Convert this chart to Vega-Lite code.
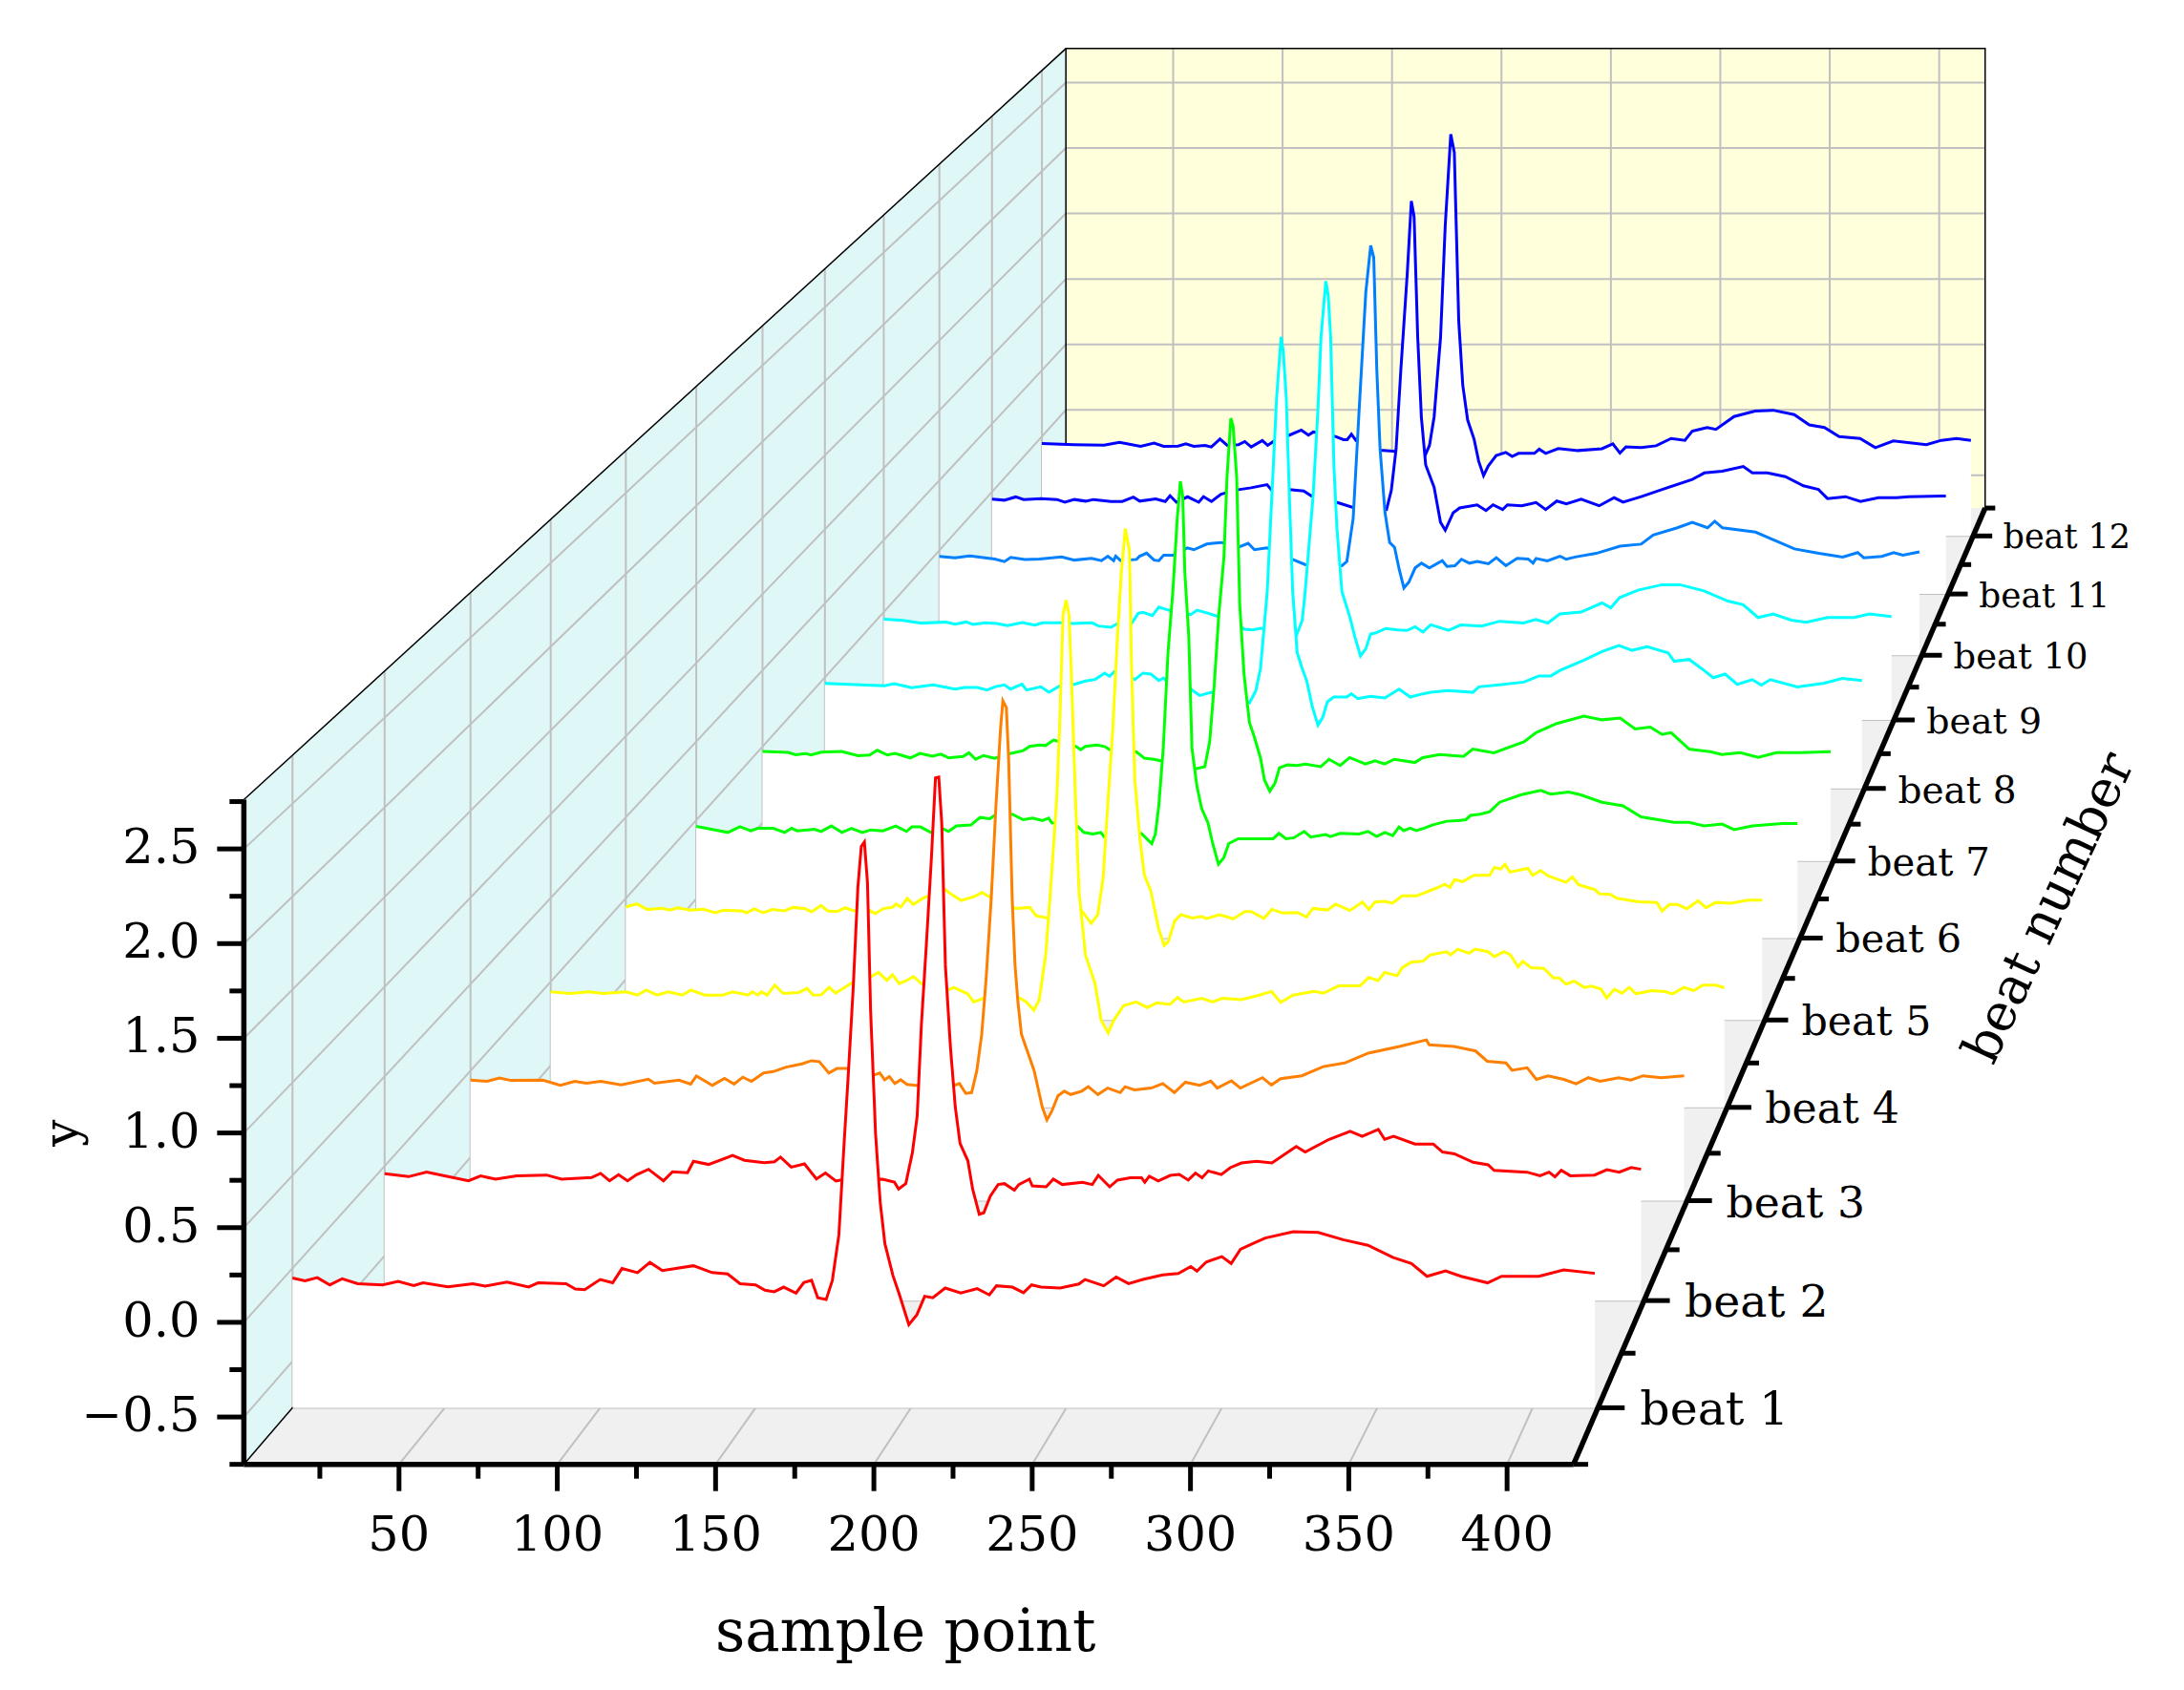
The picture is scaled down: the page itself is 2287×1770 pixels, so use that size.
{"$schema":"https://vega.github.io/schema/vega-lite/v6.json","width":2287,"height":1770,"padding":0,"autosize":"none","background":"white","config":{"view":{"stroke":null},"text":{"font":"DejaVu Serif"}},
"data":{"values":[
{"part":"side","beat":0.5,"x":1,"y":2.76,"y2":-0.75},{"part":"side","beat":12.5,"x":1,"y":2.76,"y2":-0.75},
{"part":"back","beat":12.5,"x":1,"y":2.76,"y2":-0.75},{"part":"back","beat":12.5,"x":421,"y":2.76,"y2":-0.75},
{"part":"floor","beat":0.5,"x":1,"x2":421,"y":-0.75},{"part":"floor","beat":12.5,"x":1,"x2":421,"y":-0.75},
{"part":"grid","id":"l1","beat":0.5,"x":1,"y":-0.5},{"part":"grid","id":"l1","beat":12.5,"x":1,"y":-0.5},{"part":"grid","id":"l1","beat":12.5,"x":421,"y":-0.5},
{"part":"grid","id":"l2","beat":0.5,"x":1,"y":0},{"part":"grid","id":"l2","beat":12.5,"x":1,"y":0},{"part":"grid","id":"l2","beat":12.5,"x":421,"y":0},
{"part":"grid","id":"l3","beat":0.5,"x":1,"y":0.5},{"part":"grid","id":"l3","beat":12.5,"x":1,"y":0.5},{"part":"grid","id":"l3","beat":12.5,"x":421,"y":0.5},
{"part":"grid","id":"l4","beat":0.5,"x":1,"y":1},{"part":"grid","id":"l4","beat":12.5,"x":1,"y":1},{"part":"grid","id":"l4","beat":12.5,"x":421,"y":1},
{"part":"grid","id":"l5","beat":0.5,"x":1,"y":1.5},{"part":"grid","id":"l5","beat":12.5,"x":1,"y":1.5},{"part":"grid","id":"l5","beat":12.5,"x":421,"y":1.5},
{"part":"grid","id":"l6","beat":0.5,"x":1,"y":2},{"part":"grid","id":"l6","beat":12.5,"x":1,"y":2},{"part":"grid","id":"l6","beat":12.5,"x":421,"y":2},
{"part":"grid","id":"l7","beat":0.5,"x":1,"y":2.5},{"part":"grid","id":"l7","beat":12.5,"x":1,"y":2.5},{"part":"grid","id":"l7","beat":12.5,"x":421,"y":2.5},
{"part":"grid","id":"v50","beat":0.5,"x":50,"y":-0.75},{"part":"grid","id":"v50","beat":12.5,"x":50,"y":-0.75},{"part":"grid","id":"v50","beat":12.5,"x":50,"y":2.76},
{"part":"grid","id":"v100","beat":0.5,"x":100,"y":-0.75},{"part":"grid","id":"v100","beat":12.5,"x":100,"y":-0.75},{"part":"grid","id":"v100","beat":12.5,"x":100,"y":2.76},
{"part":"grid","id":"v150","beat":0.5,"x":150,"y":-0.75},{"part":"grid","id":"v150","beat":12.5,"x":150,"y":-0.75},{"part":"grid","id":"v150","beat":12.5,"x":150,"y":2.76},
{"part":"grid","id":"v200","beat":0.5,"x":200,"y":-0.75},{"part":"grid","id":"v200","beat":12.5,"x":200,"y":-0.75},{"part":"grid","id":"v200","beat":12.5,"x":200,"y":2.76},
{"part":"grid","id":"v250","beat":0.5,"x":250,"y":-0.75},{"part":"grid","id":"v250","beat":12.5,"x":250,"y":-0.75},{"part":"grid","id":"v250","beat":12.5,"x":250,"y":2.76},
{"part":"grid","id":"v300","beat":0.5,"x":300,"y":-0.75},{"part":"grid","id":"v300","beat":12.5,"x":300,"y":-0.75},{"part":"grid","id":"v300","beat":12.5,"x":300,"y":2.76},
{"part":"grid","id":"v350","beat":0.5,"x":350,"y":-0.75},{"part":"grid","id":"v350","beat":12.5,"x":350,"y":-0.75},{"part":"grid","id":"v350","beat":12.5,"x":350,"y":2.76},
{"part":"grid","id":"v400","beat":0.5,"x":400,"y":-0.75},{"part":"grid","id":"v400","beat":12.5,"x":400,"y":-0.75},{"part":"grid","id":"v400","beat":12.5,"x":400,"y":2.76},
{"part":"grid","id":"b1","beat":1,"x":1,"y":2.76},{"part":"grid","id":"b1","beat":1,"x":1,"y":-0.75},{"part":"grid","id":"b1","beat":1,"x":421,"y":-0.75},
{"part":"grid","id":"b2","beat":2,"x":1,"y":2.76},{"part":"grid","id":"b2","beat":2,"x":1,"y":-0.75},{"part":"grid","id":"b2","beat":2,"x":421,"y":-0.75},
{"part":"grid","id":"b3","beat":3,"x":1,"y":2.76},{"part":"grid","id":"b3","beat":3,"x":1,"y":-0.75},{"part":"grid","id":"b3","beat":3,"x":421,"y":-0.75},
{"part":"grid","id":"b4","beat":4,"x":1,"y":2.76},{"part":"grid","id":"b4","beat":4,"x":1,"y":-0.75},{"part":"grid","id":"b4","beat":4,"x":421,"y":-0.75},
{"part":"grid","id":"b5","beat":5,"x":1,"y":2.76},{"part":"grid","id":"b5","beat":5,"x":1,"y":-0.75},{"part":"grid","id":"b5","beat":5,"x":421,"y":-0.75},
{"part":"grid","id":"b6","beat":6,"x":1,"y":2.76},{"part":"grid","id":"b6","beat":6,"x":1,"y":-0.75},{"part":"grid","id":"b6","beat":6,"x":421,"y":-0.75},
{"part":"grid","id":"b7","beat":7,"x":1,"y":2.76},{"part":"grid","id":"b7","beat":7,"x":1,"y":-0.75},{"part":"grid","id":"b7","beat":7,"x":421,"y":-0.75},
{"part":"grid","id":"b8","beat":8,"x":1,"y":2.76},{"part":"grid","id":"b8","beat":8,"x":1,"y":-0.75},{"part":"grid","id":"b8","beat":8,"x":421,"y":-0.75},
{"part":"grid","id":"b9","beat":9,"x":1,"y":2.76},{"part":"grid","id":"b9","beat":9,"x":1,"y":-0.75},{"part":"grid","id":"b9","beat":9,"x":421,"y":-0.75},
{"part":"grid","id":"b10","beat":10,"x":1,"y":2.76},{"part":"grid","id":"b10","beat":10,"x":1,"y":-0.75},{"part":"grid","id":"b10","beat":10,"x":421,"y":-0.75},
{"part":"grid","id":"b11","beat":11,"x":1,"y":2.76},{"part":"grid","id":"b11","beat":11,"x":1,"y":-0.75},{"part":"grid","id":"b11","beat":11,"x":421,"y":-0.75},
{"part":"grid","id":"b12","beat":12,"x":1,"y":2.76},{"part":"grid","id":"b12","beat":12,"x":1,"y":-0.75},{"part":"grid","id":"b12","beat":12,"x":421,"y":-0.75},
{"part":"frame","id":"t","beat":0.5,"x":1,"y":2.76},{"part":"frame","id":"t","beat":12.5,"x":1,"y":2.76},{"part":"frame","id":"t","beat":12.5,"x":421,"y":2.76},{"part":"frame","id":"t","beat":12.5,"x":421,"y":-0.75},
{"part":"frame","id":"c","beat":0.5,"x":1,"y":-0.75},{"part":"frame","id":"c","beat":12.5,"x":1,"y":-0.75},{"part":"frame","id":"c","beat":12.5,"x":1,"y":2.76},
{"part":"axis","id":"y","beat":0.5,"x":1,"y":-0.75},{"part":"axis","id":"y","beat":0.5,"x":1,"y":2.76},
{"part":"axis","id":"x","beat":0.5,"x":1,"y":-0.75},{"part":"axis","id":"x","beat":0.5,"x":421,"y":-0.75},
{"part":"axis","id":"z","beat":0.5,"x":421,"y":-0.75},{"part":"axis","id":"z","beat":12.5,"x":421,"y":-0.75},
{"part":"tick","axis":"y","major":1,"beat":0.5,"x":1,"y":-0.5,"label":"−0.5"},{"part":"tick","axis":"y","major":1,"beat":0.5,"x":1,"y":0,"label":"0.0"},{"part":"tick","axis":"y","major":1,"beat":0.5,"x":1,"y":0.5,"label":"0.5"},{"part":"tick","axis":"y","major":1,"beat":0.5,"x":1,"y":1,"label":"1.0"},{"part":"tick","axis":"y","major":1,"beat":0.5,"x":1,"y":1.5,"label":"1.5"},{"part":"tick","axis":"y","major":1,"beat":0.5,"x":1,"y":2,"label":"2.0"},{"part":"tick","axis":"y","major":1,"beat":0.5,"x":1,"y":2.5,"label":"2.5"},
{"part":"tick","axis":"y","major":0,"beat":0.5,"x":1,"y":-0.75},{"part":"tick","axis":"y","major":0,"beat":0.5,"x":1,"y":-0.25},{"part":"tick","axis":"y","major":0,"beat":0.5,"x":1,"y":0.25},{"part":"tick","axis":"y","major":0,"beat":0.5,"x":1,"y":0.75},{"part":"tick","axis":"y","major":0,"beat":0.5,"x":1,"y":1.25},{"part":"tick","axis":"y","major":0,"beat":0.5,"x":1,"y":1.75},{"part":"tick","axis":"y","major":0,"beat":0.5,"x":1,"y":2.25},{"part":"tick","axis":"y","major":0,"beat":0.5,"x":1,"y":2.75},
{"part":"tick","axis":"x","major":1,"beat":0.5,"x":50,"y":-0.75,"label":"50"},{"part":"tick","axis":"x","major":1,"beat":0.5,"x":100,"y":-0.75,"label":"100"},{"part":"tick","axis":"x","major":1,"beat":0.5,"x":150,"y":-0.75,"label":"150"},{"part":"tick","axis":"x","major":1,"beat":0.5,"x":200,"y":-0.75,"label":"200"},{"part":"tick","axis":"x","major":1,"beat":0.5,"x":250,"y":-0.75,"label":"250"},{"part":"tick","axis":"x","major":1,"beat":0.5,"x":300,"y":-0.75,"label":"300"},{"part":"tick","axis":"x","major":1,"beat":0.5,"x":350,"y":-0.75,"label":"350"},{"part":"tick","axis":"x","major":1,"beat":0.5,"x":400,"y":-0.75,"label":"400"},
{"part":"tick","axis":"x","major":0,"beat":0.5,"x":25,"y":-0.75},{"part":"tick","axis":"x","major":0,"beat":0.5,"x":75,"y":-0.75},{"part":"tick","axis":"x","major":0,"beat":0.5,"x":125,"y":-0.75},{"part":"tick","axis":"x","major":0,"beat":0.5,"x":175,"y":-0.75},{"part":"tick","axis":"x","major":0,"beat":0.5,"x":225,"y":-0.75},{"part":"tick","axis":"x","major":0,"beat":0.5,"x":275,"y":-0.75},{"part":"tick","axis":"x","major":0,"beat":0.5,"x":325,"y":-0.75},{"part":"tick","axis":"x","major":0,"beat":0.5,"x":375,"y":-0.75},
{"part":"tick","axis":"z","major":1,"beat":1,"x":421,"y":-0.75,"label":"beat 1"},{"part":"tick","axis":"z","major":1,"beat":2,"x":421,"y":-0.75,"label":"beat 2"},{"part":"tick","axis":"z","major":1,"beat":3,"x":421,"y":-0.75,"label":"beat 3"},{"part":"tick","axis":"z","major":1,"beat":4,"x":421,"y":-0.75,"label":"beat 4"},{"part":"tick","axis":"z","major":1,"beat":5,"x":421,"y":-0.75,"label":"beat 5"},{"part":"tick","axis":"z","major":1,"beat":6,"x":421,"y":-0.75,"label":"beat 6"},{"part":"tick","axis":"z","major":1,"beat":7,"x":421,"y":-0.75,"label":"beat 7"},{"part":"tick","axis":"z","major":1,"beat":8,"x":421,"y":-0.75,"label":"beat 8"},{"part":"tick","axis":"z","major":1,"beat":9,"x":421,"y":-0.75,"label":"beat 9"},{"part":"tick","axis":"z","major":1,"beat":10,"x":421,"y":-0.75,"label":"beat 10"},{"part":"tick","axis":"z","major":1,"beat":11,"x":421,"y":-0.75,"label":"beat 11"},{"part":"tick","axis":"z","major":1,"beat":12,"x":421,"y":-0.75,"label":"beat 12"},
{"part":"tick","axis":"z","major":0,"beat":0.5,"x":421,"y":-0.75},{"part":"tick","axis":"z","major":0,"beat":1.5,"x":421,"y":-0.75},{"part":"tick","axis":"z","major":0,"beat":2.5,"x":421,"y":-0.75},{"part":"tick","axis":"z","major":0,"beat":3.5,"x":421,"y":-0.75},{"part":"tick","axis":"z","major":0,"beat":4.5,"x":421,"y":-0.75},{"part":"tick","axis":"z","major":0,"beat":5.5,"x":421,"y":-0.75},{"part":"tick","axis":"z","major":0,"beat":6.5,"x":421,"y":-0.75},{"part":"tick","axis":"z","major":0,"beat":7.5,"x":421,"y":-0.75},{"part":"tick","axis":"z","major":0,"beat":8.5,"x":421,"y":-0.75},{"part":"tick","axis":"z","major":0,"beat":9.5,"x":421,"y":-0.75},{"part":"tick","axis":"z","major":0,"beat":10.5,"x":421,"y":-0.75},{"part":"tick","axis":"z","major":0,"beat":11.5,"x":421,"y":-0.75},{"part":"tick","axis":"z","major":0,"beat":12.5,"x":421,"y":-0.75},
{"part":"title","axis":"x","beat":0.5,"x":210,"y":-0.75,"label":"sample point"},{"part":"title","axis":"y","beat":0.5,"x":1,"y":1,"label":"y"},{"part":"title","axis":"z","beat":6,"x":421,"y":-0.75,"label":"beat number"},
{"beat":1,"x":1,"y":-0.052},{"beat":1,"x":5,"y":-0.067},{"beat":1,"x":9,"y":-0.05},{"beat":1,"x":13,"y":-0.089},{"beat":1,"x":17,"y":-0.056},{"beat":1,"x":22,"y":-0.083},{"beat":1,"x":30,"y":-0.089},{"beat":1,"x":35,"y":-0.07},{"beat":1,"x":40,"y":-0.093},{"beat":1,"x":43,"y":-0.078},{"beat":1,"x":51,"y":-0.1},{"beat":1,"x":59,"y":-0.083},{"beat":1,"x":63,"y":-0.096},{"beat":1,"x":70,"y":-0.074},{"beat":1,"x":77,"y":-0.1},{"beat":1,"x":80,"y":-0.078},{"beat":1,"x":89,"y":-0.083},{"beat":1,"x":92,"y":-0.111},{"beat":1,"x":95,"y":-0.115},{"beat":1,"x":100,"y":-0.06},{"beat":1,"x":104,"y":-0.078},{"beat":1,"x":107,"y":-0.001},{"beat":1,"x":112,"y":-0.023},{"beat":1,"x":116,"y":0.032},{"beat":1,"x":120,"y":-0.012},{"beat":1,"x":130,"y":0.014},{"beat":1,"x":136,"y":-0.023},{"beat":1,"x":141,"y":-0.03},{"beat":1,"x":145,"y":-0.083},{"beat":1,"x":150,"y":-0.089},{"beat":1,"x":153,"y":-0.118},{"beat":1,"x":156,"y":-0.126},{"beat":1,"x":159,"y":-0.101},{"beat":1,"x":163,"y":-0.133},{"beat":1,"x":165.5,"y":-0.077},{"beat":1,"x":168,"y":-0.064},{"beat":1,"x":170,"y":-0.158},{"beat":1,"x":172.7,"y":-0.168},{"beat":1,"x":174.7,"y":-0.064},{"beat":1,"x":176.8,"y":0.181},{"beat":1,"x":178.3,"y":0.624},{"beat":1,"x":179.9,"y":1.066},{"beat":1,"x":181.4,"y":1.508},{"beat":1,"x":182.9,"y":2.049},{"beat":1,"x":184,"y":2.27},{"beat":1,"x":185,"y":2.294},{"beat":1,"x":186,"y":2.073},{"beat":1,"x":187,"y":1.385},{"beat":1,"x":188.6,"y":0.722},{"beat":1,"x":190.1,"y":0.353},{"beat":1,"x":191.6,"y":0.132},{"beat":1,"x":194.2,"y":-0.04},{"beat":1,"x":196.2,"y":-0.138},{"beat":1,"x":199.3,"y":-0.303},{"beat":1,"x":201.9,"y":-0.249},{"beat":1,"x":204.4,"y":-0.15},{"beat":1,"x":207,"y":-0.158},{"beat":1,"x":211,"y":-0.106},{"beat":1,"x":216,"y":-0.133},{"beat":1,"x":221.3,"y":-0.109},{"beat":1,"x":225.2,"y":-0.143},{"beat":1,"x":227.5,"y":-0.094},{"beat":1,"x":232.6,"y":-0.101},{"beat":1,"x":236.2,"y":-0.131},{"beat":1,"x":238.8,"y":-0.089},{"beat":1,"x":241.8,"y":-0.101},{"beat":1,"x":248,"y":-0.106},{"beat":1,"x":254,"y":-0.084},{"beat":1,"x":256,"y":-0.06},{"beat":1,"x":262,"y":-0.094},{"beat":1,"x":266,"y":-0.047},{"beat":1,"x":270,"y":-0.082},{"beat":1,"x":274.6,"y":-0.06},{"beat":1,"x":281,"y":-0.035},{"beat":1,"x":286,"y":-0.028},{"beat":1,"x":290,"y":0.01},{"beat":1,"x":292,"y":-0.015},{"beat":1,"x":295,"y":0.034},{"beat":1,"x":300,"y":0.063},{"beat":1,"x":303,"y":0.026},{"beat":1,"x":306,"y":0.103},{"beat":1,"x":310,"y":0.134},{"beat":1,"x":314,"y":0.163},{"beat":1,"x":323,"y":0.197},{"beat":1,"x":331,"y":0.193},{"beat":1,"x":339,"y":0.154},{"beat":1,"x":347,"y":0.124},{"beat":1,"x":355,"y":0.059},{"beat":1,"x":361,"y":0.026},{"beat":1,"x":366,"y":-0.043},{"beat":1,"x":372,"y":-0.014},{"beat":1,"x":377,"y":-0.043},{"beat":1,"x":385.5,"y":-0.078},{"beat":1,"x":390,"y":-0.043},{"beat":1,"x":402,"y":-0.043},{"beat":1,"x":410,"y":-0.008},{"beat":1,"x":420,"y":-0.027},
{"beat":2,"x":1,"y":-0.043},{"beat":2,"x":9,"y":-0.059},{"beat":2,"x":15,"y":-0.034},{"beat":2,"x":21,"y":-0.055},{"beat":2,"x":29,"y":-0.082},{"beat":2,"x":33,"y":-0.055},{"beat":2,"x":38,"y":-0.073},{"beat":2,"x":45,"y":-0.055},{"beat":2,"x":55,"y":-0.05},{"beat":2,"x":60,"y":-0.073},{"beat":2,"x":70,"y":-0.064},{"beat":2,"x":73,"y":-0.041},{"beat":2,"x":76,"y":-0.082},{"beat":2,"x":79,"y":-0.048},{"beat":2,"x":82,"y":-0.082},{"beat":2,"x":85,"y":-0.048},{"beat":2,"x":89,"y":-0.018},{"beat":2,"x":94,"y":-0.082},{"beat":2,"x":97,"y":-0.032},{"beat":2,"x":102,"y":-0.037},{"beat":2,"x":104,"y":0.027},{"beat":2,"x":109,"y":0.009},{"beat":2,"x":117,"y":0.059},{"beat":2,"x":121,"y":0.032},{"beat":2,"x":127.6,"y":0.019},{"beat":2,"x":131,"y":0.024},{"beat":2,"x":133,"y":0.05},{"beat":2,"x":136.6,"y":-0.006},{"beat":2,"x":141,"y":0.012},{"beat":2,"x":145,"y":-0.072},{"beat":2,"x":148,"y":-0.039},{"beat":2,"x":151.5,"y":-0.083},{"beat":2,"x":153,"y":-0.078},{"beat":2,"x":167,"y":-0.073},{"beat":2,"x":171,"y":-0.09},{"beat":2,"x":172.4,"y":-0.128},{"beat":2,"x":174.8,"y":-0.098},{"beat":2,"x":177,"y":0.075},{"beat":2,"x":178.6,"y":0.279},{"beat":2,"x":180,"y":0.788},{"beat":2,"x":181.7,"y":1.247},{"beat":2,"x":183.3,"y":1.705},{"beat":2,"x":184.7,"y":2.164},{"beat":2,"x":185.8,"y":2.169},{"beat":2,"x":186.8,"y":1.909},{"beat":2,"x":188,"y":1.12},{"beat":2,"x":189.7,"y":0.661},{"beat":2,"x":191.3,"y":0.33},{"beat":2,"x":192.9,"y":0.126},{"beat":2,"x":195.5,"y":0.029},{"beat":2,"x":197.1,"y":-0.129},{"beat":2,"x":199.3,"y":-0.269},{"beat":2,"x":200.8,"y":-0.261},{"beat":2,"x":203,"y":-0.167},{"beat":2,"x":205.6,"y":-0.103},{"beat":2,"x":207.7,"y":-0.098},{"beat":2,"x":211,"y":-0.134},{"beat":2,"x":212.5,"y":-0.103},{"beat":2,"x":216,"y":-0.073},{"beat":2,"x":217,"y":-0.111},{"beat":2,"x":221.6,"y":-0.116},{"beat":2,"x":224,"y":-0.073},{"beat":2,"x":227,"y":-0.103},{"beat":2,"x":233.7,"y":-0.09},{"beat":2,"x":237,"y":-0.103},{"beat":2,"x":239,"y":-0.052},{"beat":2,"x":242.8,"y":-0.116},{"beat":2,"x":245.4,"y":-0.078},{"beat":2,"x":249.7,"y":-0.065},{"beat":2,"x":253.4,"y":-0.065},{"beat":2,"x":254.5,"y":-0.09},{"beat":2,"x":256,"y":-0.057},{"beat":2,"x":259,"y":-0.083},{"beat":2,"x":263,"y":-0.052},{"beat":2,"x":266,"y":-0.047},{"beat":2,"x":269,"y":-0.078},{"beat":2,"x":271.4,"y":-0.039},{"beat":2,"x":273.6,"y":-0.065},{"beat":2,"x":275.7,"y":-0.027},{"beat":2,"x":280,"y":-0.047},{"beat":2,"x":283,"y":-0.009},{"beat":2,"x":286.7,"y":0.017},{"beat":2,"x":291.8,"y":0.027},{"beat":2,"x":296.9,"y":0.017},{"beat":2,"x":305,"y":0.109},{"beat":2,"x":308,"y":0.078},{"beat":2,"x":316,"y":0.149},{"beat":2,"x":323,"y":0.194},{"beat":2,"x":327,"y":0.166},{"beat":2,"x":332.4,"y":0.204},{"beat":2,"x":334.5,"y":0.149},{"beat":2,"x":337.5,"y":0.166},{"beat":2,"x":344.6,"y":0.123},{"beat":2,"x":350.7,"y":0.123},{"beat":2,"x":353.8,"y":0.078},{"beat":2,"x":357.8,"y":0.068},{"beat":2,"x":364,"y":0.021},{"beat":2,"x":369,"y":0.007},{"beat":2,"x":371,"y":-0.024},{"beat":2,"x":382,"y":-0.034},{"beat":2,"x":386.3,"y":-0.054},{"beat":2,"x":389.3,"y":-0.034},{"beat":2,"x":391.3,"y":-0.06},{"beat":2,"x":393.4,"y":-0.024},{"beat":2,"x":396.4,"y":-0.054},{"beat":2,"x":404.5,"y":-0.05},{"beat":2,"x":408.6,"y":-0.02},{"beat":2,"x":412.7,"y":-0.034},{"beat":2,"x":416.7,"y":-0.008},{"beat":2,"x":420,"y":-0.018},
{"beat":3,"x":1,"y":-0.054},{"beat":3,"x":6.7,"y":-0.061},{"beat":3,"x":11,"y":-0.042},{"beat":3,"x":15,"y":-0.056},{"beat":3,"x":26,"y":-0.054},{"beat":3,"x":32,"y":-0.084},{"beat":3,"x":37,"y":-0.061},{"beat":3,"x":41,"y":-0.072},{"beat":3,"x":46,"y":-0.061},{"beat":3,"x":53,"y":-0.082},{"beat":3,"x":62.4,"y":-0.049},{"beat":3,"x":64.5,"y":-0.072},{"beat":3,"x":73,"y":-0.054},{"beat":3,"x":77,"y":-0.077},{"beat":3,"x":79,"y":-0.03},{"beat":3,"x":84.5,"y":-0.084},{"beat":3,"x":88.7,"y":-0.044},{"beat":3,"x":92,"y":-0.077},{"beat":3,"x":95,"y":-0.037},{"beat":3,"x":98,"y":-0.061},{"beat":3,"x":102.2,"y":-0.013},{"beat":3,"x":105.5,"y":-0.005},{"beat":3,"x":110,"y":0.021},{"beat":3,"x":115.4,"y":0.04},{"beat":3,"x":118.7,"y":0.058},{"beat":3,"x":121.4,"y":0.053},{"beat":3,"x":124.7,"y":-0.013},{"beat":3,"x":127.5,"y":0.013},{"beat":3,"x":131,"y":0.013},{"beat":3,"x":140,"y":-0.026},{"beat":3,"x":142.3,"y":-0.013},{"beat":3,"x":144,"y":-0.052},{"beat":3,"x":145.6,"y":-0.034},{"beat":3,"x":147.5,"y":-0.074},{"beat":3,"x":149.5,"y":-0.052},{"beat":3,"x":151.7,"y":-0.079},{"beat":3,"x":154.7,"y":-0.084},{"beat":3,"x":168,"y":-0.084},{"beat":3,"x":169.8,"y":-0.074},{"beat":3,"x":172,"y":-0.131},{"beat":3,"x":174,"y":-0.126},{"beat":3,"x":175.8,"y":0},{"beat":3,"x":177.5,"y":0.211},{"beat":3,"x":179,"y":0.528},{"beat":3,"x":180.8,"y":1},{"beat":3,"x":182.4,"y":1.53},{"beat":3,"x":184,"y":1.977},{"beat":3,"x":184.8,"y":2.135},{"beat":3,"x":186,"y":2.096},{"beat":3,"x":186.8,"y":1.793},{"beat":3,"x":188,"y":1},{"beat":3,"x":189,"y":0.607},{"beat":3,"x":190,"y":0.396},{"beat":3,"x":191.2,"y":0.211},{"beat":3,"x":193.4,"y":0.106},{"beat":3,"x":195.6,"y":0},{"beat":3,"x":198.4,"y":-0.21},{"beat":3,"x":200,"y":-0.284},{"beat":3,"x":201.6,"y":-0.237},{"beat":3,"x":203.8,"y":-0.145},{"beat":3,"x":206,"y":-0.118},{"beat":3,"x":208.2,"y":-0.137},{"beat":3,"x":212,"y":-0.118},{"beat":3,"x":214.3,"y":-0.092},{"beat":3,"x":217.6,"y":-0.137},{"beat":3,"x":221,"y":-0.1},{"beat":3,"x":225.3,"y":-0.126},{"beat":3,"x":227,"y":-0.092},{"beat":3,"x":230.2,"y":-0.11},{"beat":3,"x":236,"y":-0.1},{"beat":3,"x":240,"y":-0.074},{"beat":3,"x":244,"y":-0.126},{"beat":3,"x":247.8,"y":-0.066},{"beat":3,"x":252.7,"y":-0.084},{"beat":3,"x":256.6,"y":-0.06},{"beat":3,"x":258.8,"y":-0.1},{"beat":3,"x":263.7,"y":-0.058},{"beat":3,"x":266.8,"y":-0.1},{"beat":3,"x":274.4,"y":-0.04},{"beat":3,"x":277.5,"y":-0.082},{"beat":3,"x":280.7,"y":-0.046},{"beat":3,"x":288,"y":-0.029},{"beat":3,"x":295.4,"y":0.024},{"beat":3,"x":302.8,"y":0.045},{"beat":3,"x":311,"y":0.102},{"beat":3,"x":321.7,"y":0.14},{"beat":3,"x":331,"y":0.178},{"beat":3,"x":332,"y":0.15},{"beat":3,"x":340.6,"y":0.14},{"beat":3,"x":348,"y":0.114},{"beat":3,"x":352,"y":0.055},{"beat":3,"x":358.5,"y":0.045},{"beat":3,"x":360.6,"y":0.003},{"beat":3,"x":365.8,"y":0.017},{"beat":3,"x":369,"y":-0.05},{"beat":3,"x":373,"y":-0.029},{"beat":3,"x":378.5,"y":-0.05},{"beat":3,"x":382.7,"y":-0.075},{"beat":3,"x":386.9,"y":-0.04},{"beat":3,"x":391,"y":-0.061},{"beat":3,"x":397.4,"y":-0.04},{"beat":3,"x":401.6,"y":-0.054},{"beat":3,"x":405.8,"y":-0.029},{"beat":3,"x":412,"y":-0.04},{"beat":3,"x":420,"y":-0.029},
{"beat":4,"x":1,"y":-0.06},{"beat":4,"x":8,"y":-0.07},{"beat":4,"x":14.6,"y":-0.06},{"beat":4,"x":20,"y":-0.07},{"beat":4,"x":28,"y":-0.06},{"beat":4,"x":32,"y":-0.08},{"beat":4,"x":35,"y":-0.05},{"beat":4,"x":39,"y":-0.08},{"beat":4,"x":43,"y":-0.06},{"beat":4,"x":48,"y":-0.08},{"beat":4,"x":51,"y":-0.05},{"beat":4,"x":56,"y":-0.08},{"beat":4,"x":62.4,"y":-0.08},{"beat":4,"x":66,"y":-0.06},{"beat":4,"x":71.5,"y":-0.08},{"beat":4,"x":73,"y":-0.06},{"beat":4,"x":75,"y":-0.08},{"beat":4,"x":76.2,"y":-0.06},{"beat":4,"x":78.3,"y":-0.08},{"beat":4,"x":81,"y":-0.02},{"beat":4,"x":84,"y":-0.07},{"beat":4,"x":89.6,"y":-0.064},{"beat":4,"x":92.5,"y":-0.04},{"beat":4,"x":94.7,"y":-0.08},{"beat":4,"x":97.6,"y":-0.078},{"beat":4,"x":100.4,"y":-0.034},{"beat":4,"x":102.7,"y":-0.068},{"beat":4,"x":109,"y":-0.002},{"beat":4,"x":115,"y":0.027},{"beat":4,"x":118,"y":0.056},{"beat":4,"x":121,"y":0.008},{"beat":4,"x":123,"y":0.042},{"beat":4,"x":125.4,"y":-0.011},{"beat":4,"x":127.7,"y":0.004},{"beat":4,"x":130.5,"y":0.031},{"beat":4,"x":133.3,"y":-0.011},{"beat":4,"x":143,"y":-0.049},{"beat":4,"x":144.9,"y":-0.034},{"beat":4,"x":149.8,"y":-0.072},{"beat":4,"x":152,"y":-0.121},{"beat":4,"x":155.5,"y":-0.099},{"beat":4,"x":168.6,"y":-0.099},{"beat":4,"x":170.8,"y":-0.121},{"beat":4,"x":173.5,"y":-0.17},{"beat":4,"x":175.4,"y":-0.107},{"beat":4,"x":177.7,"y":0.159},{"beat":4,"x":179.4,"y":0.539},{"beat":4,"x":181.7,"y":1.109},{"beat":4,"x":182.8,"y":1.584},{"beat":4,"x":183.9,"y":2.192},{"beat":4,"x":185,"y":2.277},{"beat":4,"x":186,"y":2.192},{"beat":4,"x":186.8,"y":1.869},{"beat":4,"x":188.3,"y":1.109},{"beat":4,"x":189.6,"y":0.539},{"beat":4,"x":191.9,"y":0.159},{"beat":4,"x":195.3,"y":-0.01},{"beat":4,"x":197.5,"y":-0.23},{"beat":4,"x":200,"y":-0.306},{"beat":4,"x":202,"y":-0.23},{"beat":4,"x":205.5,"y":-0.143},{"beat":4,"x":210,"y":-0.121},{"beat":4,"x":214,"y":-0.154},{"beat":4,"x":217.4,"y":-0.126},{"beat":4,"x":222,"y":-0.135},{"beat":4,"x":224.8,"y":-0.094},{"beat":4,"x":227,"y":-0.121},{"beat":4,"x":233.4,"y":-0.099},{"beat":4,"x":237.3,"y":-0.121},{"beat":4,"x":240.7,"y":-0.099},{"beat":4,"x":247.5,"y":-0.107},{"beat":4,"x":254,"y":-0.08},{"beat":4,"x":258.3,"y":-0.058},{"beat":4,"x":261.6,"y":-0.123},{"beat":4,"x":266,"y":-0.08},{"beat":4,"x":273.6,"y":-0.058},{"beat":4,"x":276.8,"y":-0.069},{"beat":4,"x":282.3,"y":-0.025},{"beat":4,"x":289.9,"y":-0.025},{"beat":4,"x":293,"y":0.025},{"beat":4,"x":296.4,"y":0.007},{"beat":4,"x":298.7,"y":0.055},{"beat":4,"x":303.2,"y":0.036},{"beat":4,"x":305,"y":0.084},{"beat":4,"x":308.4,"y":0.118},{"beat":4,"x":312.3,"y":0.122},{"beat":4,"x":315,"y":0.16},{"beat":4,"x":320.9,"y":0.179},{"beat":4,"x":322.3,"y":0.16},{"beat":4,"x":324.8,"y":0.194},{"beat":4,"x":328.8,"y":0.17},{"beat":4,"x":331,"y":0.194},{"beat":4,"x":335.6,"y":0.179},{"beat":4,"x":337.9,"y":0.15},{"beat":4,"x":341.3,"y":0.179},{"beat":4,"x":343.6,"y":0.16},{"beat":4,"x":346.4,"y":0.088},{"beat":4,"x":348,"y":0.122},{"beat":4,"x":351,"y":0.084},{"beat":4,"x":355.5,"y":0.08},{"beat":4,"x":359,"y":0.023},{"beat":4,"x":361,"y":0.023},{"beat":4,"x":363.5,"y":-0.015},{"beat":4,"x":366.3,"y":0.004},{"beat":4,"x":370,"y":-0.034},{"beat":4,"x":372.6,"y":-0.026},{"beat":4,"x":376,"y":-0.045},{"beat":4,"x":378,"y":-0.097},{"beat":4,"x":380.7,"y":-0.045},{"beat":4,"x":383.4,"y":-0.068},{"beat":4,"x":386,"y":-0.034},{"beat":4,"x":388.5,"y":-0.072},{"beat":4,"x":394,"y":-0.053},{"beat":4,"x":398.7,"y":-0.059},{"beat":4,"x":401.5,"y":-0.072},{"beat":4,"x":405.5,"y":-0.034},{"beat":4,"x":409,"y":-0.053},{"beat":4,"x":412.3,"y":-0.021},{"beat":4,"x":416.9,"y":-0.021},{"beat":4,"x":420,"y":-0.036},
{"beat":5,"x":1,"y":-0.054},{"beat":5,"x":5,"y":-0.034},{"beat":5,"x":9,"y":-0.069},{"beat":5,"x":14.4,"y":-0.061},{"beat":5,"x":17.3,"y":-0.073},{"beat":5,"x":20,"y":-0.058},{"beat":5,"x":25,"y":-0.073},{"beat":5,"x":29.6,"y":-0.067},{"beat":5,"x":34,"y":-0.089},{"beat":5,"x":37,"y":-0.073},{"beat":5,"x":43.7,"y":-0.077},{"beat":5,"x":45.5,"y":-0.089},{"beat":5,"x":48.4,"y":-0.065},{"beat":5,"x":51.7,"y":-0.089},{"beat":5,"x":55,"y":-0.069},{"beat":5,"x":59.6,"y":-0.077},{"beat":5,"x":62.5,"y":-0.056},{"beat":5,"x":67,"y":-0.063},{"beat":5,"x":69.5,"y":-0.083},{"beat":5,"x":73,"y":-0.044},{"beat":5,"x":75.4,"y":-0.077},{"beat":5,"x":79,"y":-0.081},{"beat":5,"x":81.9,"y":-0.058},{"beat":5,"x":85,"y":-0.077},{"beat":5,"x":90,"y":-0.069},{"beat":5,"x":93,"y":-0.093},{"beat":5,"x":96,"y":-0.063},{"beat":5,"x":99.5,"y":-0.054},{"beat":5,"x":100.6,"y":-0.034},{"beat":5,"x":102.4,"y":-0.054},{"beat":5,"x":104.8,"y":0},{"beat":5,"x":107,"y":-0.038},{"beat":5,"x":110.6,"y":0.001},{"beat":5,"x":118.8,"y":0.054},{"beat":5,"x":121,"y":0.025},{"beat":5,"x":124.7,"y":-0.013},{"beat":5,"x":129.4,"y":0.011},{"beat":5,"x":132.4,"y":0.036},{"beat":5,"x":135.3,"y":0.007},{"beat":5,"x":144.7,"y":-0.062},{"beat":5,"x":150,"y":-0.056},{"beat":5,"x":152.3,"y":-0.107},{"beat":5,"x":156.4,"y":-0.121},{"beat":5,"x":169.3,"y":-0.081},{"beat":5,"x":172.6,"y":-0.154},{"beat":5,"x":175,"y":-0.101},{"beat":5,"x":177,"y":0.124},{"beat":5,"x":178.7,"y":0.575},{"beat":5,"x":180.5,"y":1.026},{"beat":5,"x":182.3,"y":1.614},{"beat":5,"x":183.7,"y":2.006},{"beat":5,"x":185.2,"y":2.28},{"beat":5,"x":186.7,"y":2.143},{"beat":5,"x":187.5,"y":1.418},{"beat":5,"x":188.7,"y":0.732},{"beat":5,"x":190.5,"y":0.379},{"beat":5,"x":192.2,"y":0.144},{"beat":5,"x":194.6,"y":0.046},{"beat":5,"x":197.5,"y":-0.189},{"beat":5,"x":199.5,"y":-0.291},{"beat":5,"x":201,"y":-0.268},{"beat":5,"x":203.4,"y":-0.14},{"beat":5,"x":205.7,"y":-0.101},{"beat":5,"x":209.8,"y":-0.121},{"beat":5,"x":213.4,"y":-0.111},{"beat":5,"x":215.1,"y":-0.125},{"beat":5,"x":219.8,"y":-0.101},{"beat":5,"x":222.2,"y":-0.111},{"beat":5,"x":225,"y":-0.127},{"beat":5,"x":229.2,"y":-0.081},{"beat":5,"x":231.6,"y":-0.081},{"beat":5,"x":236.3,"y":-0.123},{"beat":5,"x":239.2,"y":-0.068},{"beat":5,"x":243.3,"y":-0.091},{"beat":5,"x":248.6,"y":-0.087},{"beat":5,"x":252,"y":-0.115},{"beat":5,"x":254.4,"y":-0.062},{"beat":5,"x":259.7,"y":-0.072},{"beat":5,"x":262.7,"y":-0.036},{"beat":5,"x":268,"y":-0.075},{"beat":5,"x":272.6,"y":-0.023},{"beat":5,"x":275,"y":-0.068},{"beat":5,"x":277.3,"y":-0.023},{"beat":5,"x":280.8,"y":-0.019},{"beat":5,"x":283.7,"y":-0.03},{"beat":5,"x":287.3,"y":0.015},{"beat":5,"x":292.5,"y":0.015},{"beat":5,"x":295.5,"y":0.034},{"beat":5,"x":300,"y":0.064},{"beat":5,"x":303,"y":0.087},{"beat":5,"x":304.9,"y":0.068},{"beat":5,"x":306.6,"y":0.116},{"beat":5,"x":309.6,"y":0.103},{"beat":5,"x":313.7,"y":0.142},{"beat":5,"x":319.5,"y":0.142},{"beat":5,"x":321.3,"y":0.191},{"beat":5,"x":323.6,"y":0.181},{"beat":5,"x":325.2,"y":0.21},{"beat":5,"x":327,"y":0.162},{"beat":5,"x":333.6,"y":0.185},{"beat":5,"x":335.4,"y":0.142},{"beat":5,"x":338.3,"y":0.171},{"beat":5,"x":341.2,"y":0.138},{"beat":5,"x":347.7,"y":0.099},{"beat":5,"x":350,"y":0.132},{"beat":5,"x":352.4,"y":0.083},{"beat":5,"x":358.3,"y":0.054},{"beat":5,"x":360,"y":0.028},{"beat":5,"x":364,"y":0.024},{"beat":5,"x":366.5,"y":0.001},{"beat":5,"x":370.6,"y":-0.011},{"beat":5,"x":374.7,"y":-0.021},{"beat":5,"x":381.2,"y":-0.025},{"beat":5,"x":383.1,"y":-0.078},{"beat":5,"x":385.8,"y":-0.038},{"beat":5,"x":388.8,"y":-0.038},{"beat":5,"x":392.3,"y":-0.064},{"beat":5,"x":396.4,"y":-0.015},{"beat":5,"x":399.3,"y":-0.058},{"beat":5,"x":402.9,"y":-0.025},{"beat":5,"x":408.7,"y":-0.03},{"beat":5,"x":414.6,"y":-0.011},{"beat":5,"x":420,"y":-0.011},
{"beat":6,"x":1,"y":-0.04},{"beat":6,"x":6.7,"y":-0.058},{"beat":6,"x":13,"y":-0.078},{"beat":6,"x":17.6,"y":-0.042},{"beat":6,"x":21.8,"y":-0.068},{"beat":6,"x":24.3,"y":-0.052},{"beat":6,"x":30.3,"y":-0.052},{"beat":6,"x":34.6,"y":-0.078},{"beat":6,"x":37.3,"y":-0.052},{"beat":6,"x":39.4,"y":-0.068},{"beat":6,"x":46,"y":-0.058},{"beat":6,"x":48.5,"y":-0.072},{"beat":6,"x":52.4,"y":-0.037},{"beat":6,"x":56.4,"y":-0.078},{"beat":6,"x":60,"y":-0.052},{"beat":6,"x":64.2,"y":-0.078},{"beat":6,"x":67.3,"y":-0.062},{"beat":6,"x":72,"y":-0.068},{"beat":6,"x":76.9,"y":-0.037},{"beat":6,"x":81,"y":-0.072},{"beat":6,"x":83,"y":-0.043},{"beat":6,"x":86.3,"y":-0.043},{"beat":6,"x":90.3,"y":-0.078},{"beat":6,"x":94.5,"y":-0.052},{"beat":6,"x":97,"y":-0.072},{"beat":6,"x":100,"y":-0.037},{"beat":6,"x":105.5,"y":-0.031},{"beat":6,"x":109,"y":0.017},{"beat":6,"x":112.7,"y":0.009},{"beat":6,"x":114.5,"y":0.03},{"beat":6,"x":121.2,"y":0.038},{"beat":6,"x":125.4,"y":0.003},{"beat":6,"x":129,"y":0.013},{"beat":6,"x":132.7,"y":-0.003},{"beat":6,"x":135.1,"y":0.013},{"beat":6,"x":136.3,"y":-0.017},{"beat":6,"x":146,"y":-0.037},{"beat":6,"x":148.5,"y":-0.078},{"beat":6,"x":152,"y":-0.088},{"beat":6,"x":154.9,"y":-0.078},{"beat":6,"x":156.3,"y":-0.108},{"beat":6,"x":170.3,"y":-0.084},{"beat":6,"x":174.3,"y":-0.149},{"beat":6,"x":175.7,"y":-0.088},{"beat":6,"x":177,"y":0.094},{"beat":6,"x":178.7,"y":0.459},{"beat":6,"x":180.5,"y":1.066},{"beat":6,"x":182.4,"y":1.471},{"beat":6,"x":184,"y":1.917},{"beat":6,"x":185.2,"y":2.156},{"beat":6,"x":186.1,"y":2.059},{"beat":6,"x":186.9,"y":1.573},{"beat":6,"x":188.4,"y":1.168},{"beat":6,"x":189.6,"y":0.459},{"beat":6,"x":191.5,"y":0.216},{"beat":6,"x":193.3,"y":0.074},{"beat":6,"x":195.7,"y":-0.017},{"beat":6,"x":197.5,"y":-0.149},{"beat":6,"x":199.7,"y":-0.28},{"beat":6,"x":201.7,"y":-0.24},{"beat":6,"x":203.6,"y":-0.149},{"beat":6,"x":207.2,"y":-0.118},{"beat":6,"x":212,"y":-0.118},{"beat":6,"x":216.3,"y":-0.118},{"beat":6,"x":220.5,"y":-0.118},{"beat":6,"x":222.7,"y":-0.084},{"beat":6,"x":225.4,"y":-0.118},{"beat":6,"x":228.4,"y":-0.112},{"beat":6,"x":232.3,"y":-0.072},{"beat":6,"x":234.8,"y":-0.108},{"beat":6,"x":240.5,"y":-0.092},{"beat":6,"x":242.3,"y":-0.104},{"beat":6,"x":246,"y":-0.084},{"beat":6,"x":253.2,"y":-0.088},{"beat":6,"x":256.6,"y":-0.072},{"beat":6,"x":259.9,"y":-0.104},{"beat":6,"x":263,"y":-0.078},{"beat":6,"x":266,"y":-0.098},{"beat":6,"x":268.4,"y":-0.043},{"beat":6,"x":270.2,"y":-0.067},{"beat":6,"x":272.6,"y":-0.051},{"beat":6,"x":275,"y":-0.067},{"beat":6,"x":278,"y":-0.051},{"beat":6,"x":281,"y":-0.031},{"beat":6,"x":286.5,"y":-0.007},{"beat":6,"x":290.8,"y":-0.003},{"beat":6,"x":293.8,"y":0.003},{"beat":6,"x":295.6,"y":0.03},{"beat":6,"x":299.2,"y":0.038},{"beat":6,"x":302.9,"y":0.054},{"beat":6,"x":306.7,"y":0.114},{"beat":6,"x":314.7,"y":0.161},{"beat":6,"x":322.3,"y":0.189},{"beat":6,"x":326.2,"y":0.165},{"beat":6,"x":333,"y":0.179},{"beat":6,"x":337.6,"y":0.161},{"beat":6,"x":345.6,"y":0.114},{"beat":6,"x":353.6,"y":0.091},{"beat":6,"x":360.5,"y":0.021},{"beat":6,"x":373,"y":-0.014},{"beat":6,"x":378.8,"y":-0.014},{"beat":6,"x":384.5,"y":-0.037},{"beat":6,"x":391.3,"y":-0.025},{"beat":6,"x":395.9,"y":-0.06},{"beat":6,"x":402.8,"y":-0.037},{"beat":6,"x":414.2,"y":-0.021},{"beat":6,"x":420,"y":-0.021},
{"beat":7,"x":1,"y":-0.032},{"beat":7,"x":11,"y":-0.038},{"beat":7,"x":14,"y":-0.053},{"beat":7,"x":18,"y":-0.045},{"beat":7,"x":20,"y":-0.055},{"beat":7,"x":24,"y":-0.036},{"beat":7,"x":32,"y":-0.032},{"beat":7,"x":38.5,"y":-0.059},{"beat":7,"x":43,"y":-0.055},{"beat":7,"x":46,"y":-0.024},{"beat":7,"x":50,"y":-0.055},{"beat":7,"x":53,"y":-0.045},{"beat":7,"x":59,"y":-0.074},{"beat":7,"x":62.7,"y":-0.045},{"beat":7,"x":67.6,"y":-0.063},{"beat":7,"x":71,"y":-0.049},{"beat":7,"x":74,"y":-0.074},{"beat":7,"x":79.7,"y":-0.065},{"beat":7,"x":82,"y":-0.041},{"beat":7,"x":84.6,"y":-0.083},{"beat":7,"x":87.7,"y":-0.058},{"beat":7,"x":92,"y":-0.076},{"beat":7,"x":97.7,"y":-0.047},{"beat":7,"x":103.3,"y":-0.026},{"beat":7,"x":105.8,"y":0.001},{"beat":7,"x":109.6,"y":0.011},{"beat":7,"x":112,"y":0.007},{"beat":7,"x":115.2,"y":0.043},{"beat":7,"x":124,"y":0.001},{"beat":7,"x":125.8,"y":-0.02},{"beat":7,"x":127.7,"y":0.001},{"beat":7,"x":132,"y":0.011},{"beat":7,"x":135.2,"y":0.001},{"beat":7,"x":137.7,"y":-0.026},{"beat":7,"x":147.7,"y":-0.035},{"beat":7,"x":150.8,"y":-0.076},{"beat":7,"x":154.5,"y":-0.083},{"beat":7,"x":158.3,"y":-0.097},{"beat":7,"x":170.8,"y":-0.145},{"beat":7,"x":174.5,"y":-0.131},{"beat":7,"x":176.4,"y":0.032},{"beat":7,"x":178.2,"y":0.408},{"beat":7,"x":180,"y":0.868},{"beat":7,"x":182,"y":1.244},{"beat":7,"x":183.2,"y":1.767},{"beat":7,"x":184.7,"y":2.154},{"beat":7,"x":185.6,"y":2.1},{"beat":7,"x":187,"y":1.767},{"beat":7,"x":188.2,"y":0.931},{"beat":7,"x":189.9,"y":0.471},{"beat":7,"x":192,"y":0.158},{"beat":7,"x":193.9,"y":0.064},{"beat":7,"x":196.3,"y":-0.072},{"beat":7,"x":197.9,"y":-0.219},{"beat":7,"x":200,"y":-0.292},{"beat":7,"x":202,"y":-0.24},{"beat":7,"x":203.8,"y":-0.139},{"beat":7,"x":206.9,"y":-0.12},{"beat":7,"x":210.7,"y":-0.124},{"beat":7,"x":213.8,"y":-0.114},{"beat":7,"x":220,"y":-0.131},{"beat":7,"x":223.2,"y":-0.083},{"beat":7,"x":227.6,"y":-0.124},{"beat":7,"x":231.3,"y":-0.072},{"beat":7,"x":237.5,"y":-0.114},{"beat":7,"x":241.3,"y":-0.093},{"beat":7,"x":245,"y":-0.114},{"beat":7,"x":248.8,"y":-0.083},{"beat":7,"x":256.9,"y":-0.104},{"beat":7,"x":260,"y":-0.072},{"beat":7,"x":266.7,"y":-0.052},{"beat":7,"x":276,"y":-0.064},{"beat":7,"x":279.6,"y":-0.016},{"beat":7,"x":287.9,"y":-0.04},{"beat":7,"x":299.7,"y":0.032},{"beat":7,"x":304.4,"y":0.092},{"beat":7,"x":312.6,"y":0.152},{"beat":7,"x":323.2,"y":0.2},{"beat":7,"x":330.3,"y":0.176},{"beat":7,"x":337.4,"y":0.188},{"beat":7,"x":343.3,"y":0.116},{"beat":7,"x":349.2,"y":0.128},{"beat":7,"x":353.9,"y":0.08},{"beat":7,"x":357.4,"y":0.092},{"beat":7,"x":364.5,"y":-0.016},{"beat":7,"x":372.7,"y":-0.033},{"beat":7,"x":377.4,"y":-0.052},{"beat":7,"x":384.5,"y":-0.04},{"beat":7,"x":391.6,"y":-0.071},{"beat":7,"x":398.7,"y":-0.04},{"beat":7,"x":408,"y":-0.04},{"beat":7,"x":420,"y":-0.033},
{"beat":8,"x":1,"y":-0.04},{"beat":8,"x":15.3,"y":-0.05},{"beat":8,"x":25,"y":-0.057},{"beat":8,"x":29,"y":-0.043},{"beat":8,"x":36,"y":-0.069},{"beat":8,"x":44.8,"y":-0.05},{"beat":8,"x":53.6,"y":-0.079},{"beat":8,"x":57.5,"y":-0.068},{"beat":8,"x":62.6,"y":-0.068},{"beat":8,"x":66.5,"y":-0.085},{"beat":8,"x":69.7,"y":-0.064},{"beat":8,"x":73.5,"y":-0.051},{"beat":8,"x":76,"y":-0.079},{"beat":8,"x":80.6,"y":-0.046},{"beat":8,"x":82.5,"y":-0.085},{"beat":8,"x":88.3,"y":-0.064},{"beat":8,"x":91.5,"y":-0.1},{"beat":8,"x":96,"y":-0.057},{"beat":8,"x":101.8,"y":-0.047},{"beat":8,"x":106.3,"y":-0.025},{"beat":8,"x":110.2,"y":-0.014},{"beat":8,"x":114,"y":0.029},{"beat":8,"x":116,"y":0.007},{"beat":8,"x":118,"y":0.04},{"beat":8,"x":126.3,"y":-0.014},{"beat":8,"x":129.5,"y":0.029},{"beat":8,"x":132.7,"y":0.022},{"beat":8,"x":135.9,"y":-0.021},{"beat":8,"x":137.8,"y":-0.004},{"beat":8,"x":139.5,"y":-0.036},{"beat":8,"x":148.8,"y":-0.079},{"beat":8,"x":152.4,"y":-0.122},{"beat":8,"x":157.1,"y":-0.1},{"beat":8,"x":172.6,"y":-0.171},{"beat":8,"x":175.1,"y":-0.09},{"beat":8,"x":177,"y":0.061},{"beat":8,"x":179.7,"y":0.577},{"beat":8,"x":181.5,"y":1.2},{"beat":8,"x":183.5,"y":1.888},{"beat":8,"x":185.3,"y":2.3},{"beat":8,"x":186.2,"y":2.2},{"beat":8,"x":187.4,"y":1.888},{"beat":8,"x":188.7,"y":1.2},{"beat":8,"x":190,"y":0.577},{"beat":8,"x":191.8,"y":0.168},{"beat":8,"x":193.8,"y":0.061},{"beat":8,"x":195.7,"y":-0.025},{"beat":8,"x":197.9,"y":-0.197},{"beat":8,"x":200.2,"y":-0.322},{"beat":8,"x":202.1,"y":-0.272},{"beat":8,"x":204,"y":-0.165},{"beat":8,"x":206.6,"y":-0.133},{"beat":8,"x":211.8,"y":-0.133},{"beat":8,"x":213.7,"y":-0.111},{"beat":8,"x":216.3,"y":-0.143},{"beat":8,"x":221.4,"y":-0.128},{"beat":8,"x":227.2,"y":-0.139},{"beat":8,"x":233,"y":-0.079},{"beat":8,"x":237.5,"y":-0.133},{"beat":8,"x":242.6,"y":-0.111},{"beat":8,"x":245.8,"y":-0.101},{"beat":8,"x":253,"y":-0.089},{"beat":8,"x":262.8,"y":-0.101},{"beat":8,"x":265.2,"y":-0.064},{"beat":8,"x":272.5,"y":-0.052},{"beat":8,"x":283.4,"y":-0.032},{"beat":8,"x":289.5,"y":0.01},{"beat":8,"x":294.3,"y":0.01},{"beat":8,"x":298,"y":0.047},{"beat":8,"x":307.7,"y":0.116},{"beat":8,"x":315,"y":0.175},{"beat":8,"x":321.8,"y":0.215},{"beat":8,"x":327.1,"y":0.183},{"beat":8,"x":333.2,"y":0.207},{"beat":8,"x":341.7,"y":0.165},{"beat":8,"x":344.1,"y":0.109},{"beat":8,"x":350.2,"y":0.121},{"beat":8,"x":356.2,"y":0.047},{"beat":8,"x":359.9,"y":-0.002},{"beat":8,"x":364.7,"y":0.022},{"beat":8,"x":369.6,"y":-0.047},{"beat":8,"x":375.7,"y":-0.015},{"beat":8,"x":379.3,"y":-0.052},{"beat":8,"x":383,"y":-0.015},{"beat":8,"x":393.9,"y":-0.064},{"beat":8,"x":404.8,"y":-0.039},{"beat":8,"x":412,"y":-0.007},{"beat":8,"x":420,"y":-0.022},
{"beat":9,"x":1,"y":-0.05},{"beat":9,"x":9,"y":-0.058},{"beat":9,"x":16.7,"y":-0.077},{"beat":9,"x":26.8,"y":-0.069},{"beat":9,"x":30.7,"y":-0.084},{"beat":9,"x":35.3,"y":-0.069},{"beat":9,"x":38,"y":-0.086},{"beat":9,"x":43.3,"y":-0.075},{"beat":9,"x":47.9,"y":-0.08},{"beat":9,"x":52.5,"y":-0.095},{"beat":9,"x":58.5,"y":-0.073},{"beat":9,"x":63.8,"y":-0.091},{"beat":9,"x":67,"y":-0.075},{"beat":9,"x":74.4,"y":-0.075},{"beat":9,"x":79.7,"y":-0.08},{"beat":9,"x":87.6,"y":-0.075},{"beat":9,"x":90.3,"y":-0.097},{"beat":9,"x":95.5,"y":-0.106},{"beat":9,"x":98.2,"y":-0.08},{"beat":9,"x":104,"y":-0.08},{"beat":9,"x":106.8,"y":-0.009},{"beat":9,"x":108.8,"y":-0.002},{"beat":9,"x":112.7,"y":-0.024},{"beat":9,"x":115.4,"y":0.035},{"beat":9,"x":119.4,"y":0.013},{"beat":9,"x":128.6,"y":-0.018},{"beat":9,"x":131.3,"y":0.013},{"beat":9,"x":136,"y":-0.009},{"beat":9,"x":139.9,"y":-0.031},{"beat":9,"x":151.1,"y":-0.119},{"beat":9,"x":154.4,"y":-0.124},{"beat":9,"x":157.7,"y":-0.113},{"beat":9,"x":172.6,"y":-0.161},{"beat":9,"x":175,"y":-0.058},{"beat":9,"x":176.2,"y":0.14},{"beat":9,"x":179.5,"y":0.805},{"beat":9,"x":181.5,"y":1.4},{"beat":9,"x":182.8,"y":1.912},{"beat":9,"x":184.8,"y":2.3},{"beat":9,"x":185.8,"y":2.2},{"beat":9,"x":186.8,"y":1.912},{"beat":9,"x":188.2,"y":1},{"beat":9,"x":189.4,"y":0.585},{"beat":9,"x":191.5,"y":0.141},{"beat":9,"x":194.8,"y":-0.035},{"beat":9,"x":196.8,"y":-0.168},{"beat":9,"x":199.2,"y":-0.305},{"beat":9,"x":201.4,"y":-0.256},{"beat":9,"x":203.4,"y":-0.153},{"beat":9,"x":205.4,"y":-0.146},{"beat":9,"x":209.7,"y":-0.114},{"beat":9,"x":214.6,"y":-0.124},{"beat":9,"x":218.6,"y":-0.128},{"beat":9,"x":221.9,"y":-0.102},{"beat":9,"x":225.2,"y":-0.139},{"beat":9,"x":228.4,"y":-0.089},{"beat":9,"x":235.9,"y":-0.127},{"beat":9,"x":240.9,"y":-0.089},{"beat":9,"x":249.6,"y":-0.097},{"beat":9,"x":257.1,"y":-0.064},{"beat":9,"x":267,"y":-0.076},{"beat":9,"x":272.1,"y":-0.051},{"beat":9,"x":277.1,"y":-0.076},{"beat":9,"x":282.1,"y":-0.013},{"beat":9,"x":290.9,"y":0},{"beat":9,"x":299.6,"y":0.063},{"beat":9,"x":303.3,"y":0.03},{"beat":9,"x":307,"y":0.101},{"beat":9,"x":314.6,"y":0.152},{"beat":9,"x":324.6,"y":0.19},{"beat":9,"x":332,"y":0.19},{"beat":9,"x":342,"y":0.147},{"beat":9,"x":352,"y":0.076},{"beat":9,"x":358.3,"y":0.051},{"beat":9,"x":364.5,"y":-0.038},{"beat":9,"x":370.8,"y":-0.013},{"beat":9,"x":378.3,"y":-0.056},{"beat":9,"x":384.5,"y":-0.071},{"beat":9,"x":393.3,"y":-0.038},{"beat":9,"x":404.5,"y":-0.038},{"beat":9,"x":410.8,"y":-0.013},{"beat":9,"x":420,"y":-0.031},
{"beat":10,"x":1,"y":-0.044},{"beat":10,"x":7.7,"y":-0.054},{"beat":10,"x":13.8,"y":-0.04},{"beat":10,"x":20.6,"y":-0.054},{"beat":10,"x":24.7,"y":-0.063},{"beat":10,"x":28.8,"y":-0.081},{"beat":10,"x":31.5,"y":-0.051},{"beat":10,"x":37.6,"y":-0.065},{"beat":10,"x":43.8,"y":-0.063},{"beat":10,"x":53.3,"y":-0.047},{"beat":10,"x":58.7,"y":-0.07},{"beat":10,"x":66,"y":-0.058},{"beat":10,"x":70.3,"y":-0.074},{"beat":10,"x":73,"y":-0.042},{"beat":10,"x":75.5,"y":-0.074},{"beat":10,"x":76.4,"y":-0.042},{"beat":10,"x":78.5,"y":-0.074},{"beat":10,"x":85.3,"y":-0.065},{"beat":10,"x":86.6,"y":-0.042},{"beat":10,"x":89.6,"y":-0.02},{"beat":10,"x":92.8,"y":-0.07},{"beat":10,"x":94.8,"y":-0.074},{"beat":10,"x":96.9,"y":-0.035},{"beat":10,"x":100.9,"y":-0.035},{"beat":10,"x":107,"y":0.017},{"beat":10,"x":109.8,"y":0.004},{"beat":10,"x":115.3,"y":0.045},{"beat":10,"x":121.4,"y":0.056},{"beat":10,"x":129.6,"y":0.027},{"beat":10,"x":133,"y":0.05},{"beat":10,"x":135.7,"y":0.004},{"beat":10,"x":141.1,"y":0.017},{"beat":10,"x":152,"y":-0.065},{"beat":10,"x":157.5,"y":-0.103},{"beat":10,"x":173.1,"y":-0.11},{"beat":10,"x":175.2,"y":-0.08},{"beat":10,"x":177.9,"y":0.227},{"beat":10,"x":180.3,"y":0.955},{"beat":10,"x":183.3,"y":1.842},{"beat":10,"x":185.4,"y":2.179},{"beat":10,"x":186.7,"y":2.092},{"beat":10,"x":188,"y":1.296},{"beat":10,"x":189.4,"y":0.727},{"beat":10,"x":191.5,"y":0.272},{"beat":10,"x":193.5,"y":0.056},{"beat":10,"x":195.6,"y":0.022},{"beat":10,"x":197.6,"y":-0.137},{"beat":10,"x":199.6,"y":-0.269},{"beat":10,"x":201.7,"y":-0.228},{"beat":10,"x":204.4,"y":-0.126},{"beat":10,"x":207.1,"y":-0.092},{"beat":10,"x":210.5,"y":-0.126},{"beat":10,"x":216,"y":-0.074},{"beat":10,"x":218,"y":-0.115},{"beat":10,"x":221.4,"y":-0.11},{"beat":10,"x":224.2,"y":-0.064},{"beat":10,"x":227.6,"y":-0.092},{"beat":10,"x":231,"y":-0.08},{"beat":10,"x":235.7,"y":-0.096},{"beat":10,"x":239.1,"y":-0.053},{"beat":10,"x":243.2,"y":-0.11},{"beat":10,"x":248,"y":-0.058},{"beat":10,"x":252.7,"y":-0.062},{"beat":10,"x":254.8,"y":-0.092},{"beat":10,"x":256.1,"y":-0.058},{"beat":10,"x":260.9,"y":-0.076},{"beat":10,"x":266.3,"y":-0.042},{"beat":10,"x":269,"y":-0.064},{"beat":10,"x":272.8,"y":-0.048},{"beat":10,"x":281.8,"y":-0.022},{"beat":10,"x":292,"y":0.03},{"beat":10,"x":301,"y":0.044},{"beat":10,"x":306.2,"y":0.109},{"beat":10,"x":316.5,"y":0.161},{"beat":10,"x":322.9,"y":0.2},{"beat":10,"x":329.4,"y":0.161},{"beat":10,"x":332.5,"y":0.208},{"beat":10,"x":335.8,"y":0.161},{"beat":10,"x":349.9,"y":0.13},{"beat":10,"x":356.4,"y":0.083},{"beat":10,"x":366.6,"y":0.01},{"beat":10,"x":377,"y":-0.022},{"beat":10,"x":387.2,"y":-0.048},{"beat":10,"x":393.6,"y":-0.016},{"beat":10,"x":396.2,"y":-0.053},{"beat":10,"x":403.9,"y":-0.043},{"beat":10,"x":409,"y":-0.016},{"beat":10,"x":412.9,"y":-0.035},{"beat":10,"x":420,"y":-0.011},
{"beat":11,"x":1,"y":-0.053},{"beat":11,"x":6.4,"y":-0.061},{"beat":11,"x":11.4,"y":-0.037},{"beat":11,"x":14.9,"y":-0.056},{"beat":11,"x":22.6,"y":-0.049},{"beat":11,"x":29.5,"y":-0.056},{"beat":11,"x":33,"y":-0.075},{"beat":11,"x":37.2,"y":-0.056},{"beat":11,"x":42.1,"y":-0.068},{"beat":11,"x":45.6,"y":-0.056},{"beat":11,"x":53.3,"y":-0.07},{"beat":11,"x":58.2,"y":-0.07},{"beat":11,"x":63.1,"y":-0.039},{"beat":11,"x":65.9,"y":-0.068},{"beat":11,"x":72.9,"y":-0.052},{"beat":11,"x":77.1,"y":-0.071},{"beat":11,"x":79.2,"y":-0.029},{"beat":11,"x":82,"y":-0.076},{"beat":11,"x":86.9,"y":-0.036},{"beat":11,"x":91.8,"y":-0.076},{"beat":11,"x":93.9,"y":-0.036},{"beat":11,"x":97.4,"y":-0.071},{"beat":11,"x":101.6,"y":-0.017},{"beat":11,"x":109.2,"y":0.016},{"beat":11,"x":114.8,"y":0.03},{"beat":11,"x":121.8,"y":0.053},{"beat":11,"x":123.9,"y":0.011},{"beat":11,"x":131.6,"y":0.016},{"beat":11,"x":137.9,"y":0.006},{"beat":11,"x":141.4,"y":-0.031},{"beat":11,"x":152.6,"y":-0.078},{"beat":11,"x":158.9,"y":-0.111},{"beat":11,"x":174.3,"y":-0.13},{"beat":11,"x":176.4,"y":0.011},{"beat":11,"x":178.5,"y":0.315},{"beat":11,"x":180.6,"y":0.9},{"beat":11,"x":183.4,"y":1.602},{"beat":11,"x":185.2,"y":2.136},{"beat":11,"x":186.4,"y":2.023},{"beat":11,"x":188,"y":1.134},{"beat":11,"x":189.6,"y":0.549},{"beat":11,"x":191.5,"y":0.198},{"beat":11,"x":195.2,"y":0.034},{"beat":11,"x":198,"y":-0.223},{"beat":11,"x":200.1,"y":-0.282},{"beat":11,"x":203.6,"y":-0.153},{"beat":11,"x":206.4,"y":-0.118},{"beat":11,"x":214.1,"y":-0.095},{"beat":11,"x":218,"y":-0.137},{"beat":11,"x":221.1,"y":-0.095},{"beat":11,"x":225.3,"y":-0.13},{"beat":11,"x":227.4,"y":-0.095},{"beat":11,"x":233.7,"y":-0.102},{"beat":11,"x":240,"y":-0.078},{"beat":11,"x":244.2,"y":-0.13},{"beat":11,"x":249.1,"y":-0.067},{"beat":11,"x":253.3,"y":-0.088},{"beat":11,"x":259.8,"y":-0.054},{"beat":11,"x":267.7,"y":-0.102},{"beat":11,"x":274.3,"y":-0.043},{"beat":11,"x":278.2,"y":-0.075},{"beat":11,"x":286.2,"y":-0.035},{"beat":11,"x":295.4,"y":0.018},{"beat":11,"x":308.6,"y":0.091},{"beat":11,"x":313.9,"y":0.139},{"beat":11,"x":321.8,"y":0.152},{"beat":11,"x":331,"y":0.187},{"beat":11,"x":335,"y":0.139},{"beat":11,"x":341.6,"y":0.139},{"beat":11,"x":349.5,"y":0.112},{"beat":11,"x":357.4,"y":0.045},{"beat":11,"x":364,"y":0.018},{"beat":11,"x":368,"y":-0.049},{"beat":11,"x":375.9,"y":-0.035},{"beat":11,"x":382.5,"y":-0.07},{"beat":11,"x":390.4,"y":-0.043},{"beat":11,"x":398.3,"y":-0.043},{"beat":11,"x":403.6,"y":-0.035},{"beat":11,"x":420,"y":-0.03},
{"beat":12,"x":1,"y":-0.053},{"beat":12,"x":15.3,"y":-0.062},{"beat":12,"x":29,"y":-0.066},{"beat":12,"x":36,"y":-0.045},{"beat":12,"x":45.5,"y":-0.074},{"beat":12,"x":51.6,"y":-0.05},{"beat":12,"x":55.9,"y":-0.074},{"beat":12,"x":62.4,"y":-0.072},{"beat":12,"x":65.9,"y":-0.055},{"beat":12,"x":69.5,"y":-0.074},{"beat":12,"x":74.6,"y":-0.067},{"beat":12,"x":77.4,"y":-0.079},{"beat":12,"x":81.3,"y":-0.019},{"beat":12,"x":84.6,"y":-0.067},{"beat":12,"x":89.6,"y":-0.062},{"beat":12,"x":92.5,"y":-0.038},{"beat":12,"x":95.4,"y":-0.079},{"beat":12,"x":100.4,"y":-0.031},{"beat":12,"x":102.8,"y":-0.067},{"beat":12,"x":105.4,"y":-0.038},{"beat":12,"x":112.6,"y":0.01},{"beat":12,"x":118,"y":0.048},{"beat":12,"x":121.2,"y":0.01},{"beat":12,"x":123.4,"y":0.034},{"beat":12,"x":133.4,"y":0},{"beat":12,"x":137,"y":-0.024},{"beat":12,"x":138.7,"y":-0.024},{"beat":12,"x":140.6,"y":0.017},{"beat":12,"x":142.7,"y":-0.031},{"beat":12,"x":153.5,"y":-0.103},{"beat":12,"x":159.3,"y":-0.11},{"beat":12,"x":173.6,"y":-0.151},{"beat":12,"x":175.8,"y":-0.067},{"beat":12,"x":177.9,"y":0.149},{"beat":12,"x":180.8,"y":0.749},{"beat":12,"x":182.9,"y":1.589},{"beat":12,"x":185.4,"y":2.28},{"beat":12,"x":187,"y":2.141},{"beat":12,"x":189,"y":0.869},{"beat":12,"x":190.8,"y":0.389},{"beat":12,"x":193,"y":0.125},{"beat":12,"x":195.9,"y":-0.019},{"beat":12,"x":198,"y":-0.187},{"beat":12,"x":200.2,"y":-0.295},{"beat":12,"x":202.3,"y":-0.223},{"beat":12,"x":205.9,"y":-0.144},{"beat":12,"x":210.2,"y":-0.12},{"beat":12,"x":213.1,"y":-0.151},{"beat":12,"x":216,"y":-0.127},{"beat":12,"x":223.1,"y":-0.127},{"beat":12,"x":225.3,"y":-0.096},{"beat":12,"x":228.2,"y":-0.127},{"beat":12,"x":233.9,"y":-0.091},{"beat":12,"x":242.8,"y":-0.106},{"beat":12,"x":253.6,"y":-0.092},{"beat":12,"x":258.5,"y":-0.056},{"beat":12,"x":261.7,"y":-0.125},{"beat":12,"x":264.4,"y":-0.078},{"beat":12,"x":271.2,"y":-0.084},{"beat":12,"x":278,"y":-0.07},{"beat":12,"x":284.8,"y":-0.015},{"beat":12,"x":291,"y":-0.029},{"beat":12,"x":294.3,"y":0.04},{"beat":12,"x":301,"y":0.068},{"beat":12,"x":305,"y":0.054},{"beat":12,"x":313.2,"y":0.151},{"beat":12,"x":322.7,"y":0.192},{"beat":12,"x":330.8,"y":0.198},{"beat":12,"x":340.3,"y":0.165},{"beat":12,"x":347.1,"y":0.087},{"beat":12,"x":353.9,"y":0.068},{"beat":12,"x":360.6,"y":-0.001},{"beat":12,"x":370,"y":-0.015},{"beat":12,"x":376.9,"y":-0.084},{"beat":12,"x":385,"y":-0.034},{"beat":12,"x":399.9,"y":-0.062},{"beat":12,"x":406.7,"y":-0.029},{"beat":12,"x":413.5,"y":-0.015},{"beat":12,"x":420,"y":-0.029}
]},
"transform":[
{"calculate":"1/(1+0.03653*(datum.beat-1))","as":"s"},
{"calculate":"3044+datum.s*(3.2547*(datum.x-1)-2737.7)","as":"px"},
{"calculate":"-1711+datum.s*(3185.4-194.7*(datum.y+0.75))","as":"py"},
{"calculate":"3044+datum.s*(3.2547*((datum.x2==null?datum.x:datum.x2)-1)-2737.7)","as":"px2"},
{"calculate":"-1711+datum.s*(3185.4-194.7*((datum.y2==null?-0.75:datum.y2)+0.75))","as":"py2"},
{"calculate":"(datum.major?28:15)*(datum.axis=='z'?datum.s:1)","as":"len"},
{"calculate":"datum.px+(datum.axis=='y'?-datum.len:datum.axis=='z'?datum.len:0)","as":"tx2"},
{"calculate":"datum.py+(datum.axis=='x'?datum.len:0)","as":"ty2"},
{"calculate":"datum.px+44*datum.s","as":"tx"},
{"calculate":"49*datum.s","as":"fs"}
],
"encoding":{"x":{"field":"px","type":"quantitative","scale":{"domain":[0,2287]},"axis":null},"y":{"field":"py","type":"quantitative","scale":{"domain":[1770,0]},"axis":null}},
"layer":[
{"transform":[{"filter":"datum.part=='side'"}],"mark":{"type":"area","fill":"#dff7f6"},"encoding":{"y2":{"field":"py2"}}},
{"transform":[{"filter":"datum.part=='back'"}],"mark":{"type":"area","fill":"#ffffdc"},"encoding":{"y2":{"field":"py2"}}},
{"transform":[{"filter":"datum.part=='floor'"}],"mark":{"type":"area","fill":"#f0f0f0","orient":"horizontal"},"encoding":{"x2":{"field":"px2"}}},
{"transform":[{"filter":"datum.part=='grid'"}],"mark":{"type":"line","stroke":"#c0c0c0","strokeWidth":2},"encoding":{"detail":{"field":"id"}}},
{"transform":[{"filter":"datum.part=='frame'"}],"mark":{"type":"line","stroke":"black","strokeWidth":1.5},"encoding":{"detail":{"field":"id"}}},
{"transform":[{"filter":"datum.beat==12&&!datum.part"}],"layer":[{"mark":{"type":"area","fill":"white"},"encoding":{"y2":{"field":"py2"}}},{"mark":{"type":"line","stroke":"#0000ff","strokeWidth":3}}]},
{"transform":[{"filter":"datum.beat==11&&!datum.part"}],"layer":[{"mark":{"type":"area","fill":"white"},"encoding":{"y2":{"field":"py2"}}},{"mark":{"type":"line","stroke":"#0000ff","strokeWidth":3}}]},
{"transform":[{"filter":"datum.beat==10&&!datum.part"}],"layer":[{"mark":{"type":"area","fill":"white"},"encoding":{"y2":{"field":"py2"}}},{"mark":{"type":"line","stroke":"#0080ff","strokeWidth":3}}]},
{"transform":[{"filter":"datum.beat==9&&!datum.part"}],"layer":[{"mark":{"type":"area","fill":"white"},"encoding":{"y2":{"field":"py2"}}},{"mark":{"type":"line","stroke":"#00ffff","strokeWidth":3}}]},
{"transform":[{"filter":"datum.beat==8&&!datum.part"}],"layer":[{"mark":{"type":"area","fill":"white"},"encoding":{"y2":{"field":"py2"}}},{"mark":{"type":"line","stroke":"#00ffff","strokeWidth":3}}]},
{"transform":[{"filter":"datum.beat==7&&!datum.part"}],"layer":[{"mark":{"type":"area","fill":"white"},"encoding":{"y2":{"field":"py2"}}},{"mark":{"type":"line","stroke":"#00ff00","strokeWidth":3}}]},
{"transform":[{"filter":"datum.beat==6&&!datum.part"}],"layer":[{"mark":{"type":"area","fill":"white"},"encoding":{"y2":{"field":"py2"}}},{"mark":{"type":"line","stroke":"#00ff00","strokeWidth":3}}]},
{"transform":[{"filter":"datum.beat==5&&!datum.part"}],"layer":[{"mark":{"type":"area","fill":"white"},"encoding":{"y2":{"field":"py2"}}},{"mark":{"type":"line","stroke":"#ffff00","strokeWidth":3}}]},
{"transform":[{"filter":"datum.beat==4&&!datum.part"}],"layer":[{"mark":{"type":"area","fill":"white"},"encoding":{"y2":{"field":"py2"}}},{"mark":{"type":"line","stroke":"#ffff00","strokeWidth":3}}]},
{"transform":[{"filter":"datum.beat==3&&!datum.part"}],"layer":[{"mark":{"type":"area","fill":"white"},"encoding":{"y2":{"field":"py2"}}},{"mark":{"type":"line","stroke":"#ff8000","strokeWidth":3}}]},
{"transform":[{"filter":"datum.beat==2&&!datum.part"}],"layer":[{"mark":{"type":"area","fill":"white"},"encoding":{"y2":{"field":"py2"}}},{"mark":{"type":"line","stroke":"#ff0000","strokeWidth":3}}]},
{"transform":[{"filter":"datum.beat==1&&!datum.part"}],"layer":[{"mark":{"type":"area","fill":"white"},"encoding":{"y2":{"field":"py2"}}},{"mark":{"type":"line","stroke":"#ff0000","strokeWidth":3}}]},
{"transform":[{"filter":"datum.part=='axis'"}],"mark":{"type":"line","stroke":"black","strokeWidth":5.5},"encoding":{"detail":{"field":"id"}}},
{"transform":[{"filter":"datum.part=='tick'"}],"mark":{"type":"rule","stroke":"black","strokeWidth":5},"encoding":{"x2":{"field":"tx2"},"y2":{"field":"ty2"}}},
{"transform":[{"filter":"datum.part=='tick'&&datum.major&&datum.axis=='y'"}],"mark":{"type":"text","align":"right","baseline":"middle","dx":-46,"fontSize":51},"encoding":{"text":{"field":"label"}}},
{"transform":[{"filter":"datum.part=='tick'&&datum.major&&datum.axis=='x'"}],"mark":{"type":"text","align":"center","baseline":"middle","dy":75,"fontSize":51},"encoding":{"text":{"field":"label"}}},
{"transform":[{"filter":"datum.part=='tick'&&datum.major&&datum.axis=='z'"}],"mark":{"type":"text","align":"left","baseline":"middle","dy":3},"encoding":{"x":{"field":"tx","type":"quantitative"},"text":{"field":"label"},"size":{"field":"fs","type":"quantitative","scale":null}}},
{"transform":[{"filter":"datum.part=='title'&&datum.axis=='x'"}],"mark":{"type":"text","align":"center","baseline":"middle","dy":177,"fontSize":61},"encoding":{"text":{"field":"label"}}},
{"transform":[{"filter":"datum.part=='title'&&datum.axis=='y'"}],"mark":{"type":"text","align":"center","baseline":"middle","dy":-189,"angle":270,"fontSize":50},"encoding":{"text":{"field":"label"}}},
{"transform":[{"filter":"datum.part=='title'&&datum.axis=='z'"}],"mark":{"type":"text","align":"center","baseline":"middle","dx":139,"dy":224,"angle":295,"fontSize":54},"encoding":{"text":{"field":"label"}}}
]}
